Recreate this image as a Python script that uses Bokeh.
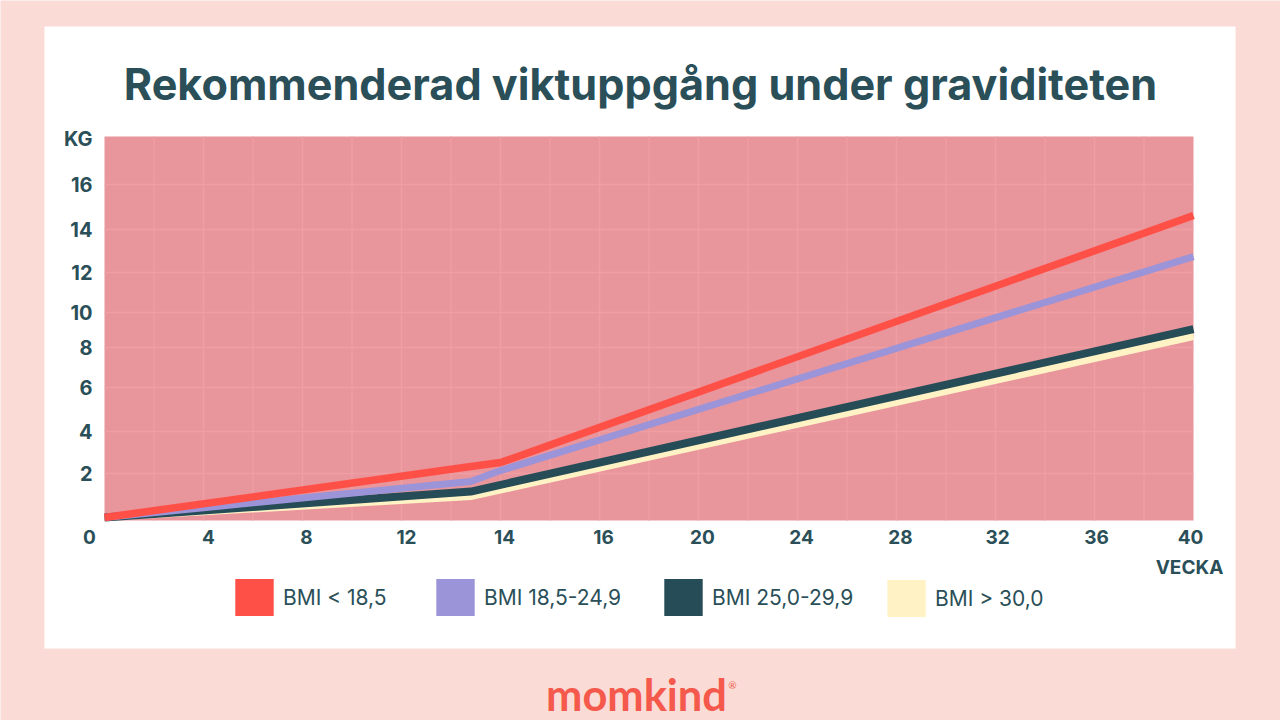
import numpy as np
from bokeh.plotting import figure
from bokeh.models import Range1d, FixedTicker, Label, Legend, LegendItem
from bokeh.embed import file_html
from bokeh.resources import INLINE

# ---- data ----
x_labels = ["0", "4", "8", "12", "14", "16", "20", "24", "28", "32", "36", "40"]
x_weeks = [0, 4, 8, 12, 14, 16, 20, 24, 28, 32, 36, 40]
y_labels = ["2", "4", "6", "8", "10", "12", "14", "16"]
y_kg = [2, 4, 6, 8, 10, 12, 14, 16]

names = ["BMI < 18,5", "BMI 18,5-24,9", "BMI 25,0-29,9", "BMI > 30,0"]
colors = ["#FF5048", "#9C94D8", "#264D57", "#FFF3C6"]
widths = [7.5, 7, 8, 7]

weeks_red = [0, 13.4, 14, 40]
kg_red = [0, 2.33, 2.52, 14.62]
weeks_purple = [0, 13.4, 14, 40]
kg_purple = [0, 1.64, 2.14, 12.74]
weeks_dark = [0, 13.4, 40]
kg_dark = [0, 1.18, 9.05]
weeks_cream = [0, 13.4, 40]
kg_cream = [0, 0.95, 8.63]

TEXT = "#2A4F58"
PAGE = "#FADBD6"
FONT = "Inter"

# ---- the reference axes are irregular: scale positions per tick ----
x_pos = [0, 99, 198, 297, 396, 495, 594, 693, 792, 891, 990, 1089]
x_label_pos = [-15, 104, 202, 302, 400, 499, 598, 697, 796, 893, 992, 1086]
y_pos = [3, 47, 89, 133, 173, 208, 248, 291, 336]
y_label_pos = [47, 89, 133, 173, 208, 248, 291, 336]
KG_POS = 382


def wx(w):
    return np.interp(w, x_weeks, x_pos)


def ky(k):
    return np.interp(k, [0] + y_kg, y_pos)


p = figure(width=1280, height=720, output_backend="svg", toolbar_location=None,
           x_range=Range1d(-104, 1176), y_range=Range1d(-200, 520),
           min_border=0)
p.border_fill_color = PAGE
p.background_fill_color = PAGE
p.outline_line_color = None
p.grid.visible = False

# card and plot area
p.quad(left=[-60], right=[1131], bottom=[-128], top=[494], fill_color="white", line_color=None)
p.quad(left=[0], right=[x_pos[-1]], bottom=[0], top=[384], fill_color="#E9959C", line_color=None)

grid_xs = [(x_pos[i] + x_pos[i + 1]) / 2 for i in range(len(x_pos) - 1)] + x_pos[1:-1]
p.segment(x0=grid_xs, x1=grid_xs, y0=[0] * len(grid_xs), y1=[384] * len(grid_xs),
          line_color="#F0A0A6", line_width=1.5, line_alpha=0.8)
p.segment(x0=[0] * len(y_label_pos), x1=[x_pos[-1]] * len(y_label_pos),
          y0=y_label_pos, y1=y_label_pos, line_color="#F0A0A6", line_width=1.5, line_alpha=0.8)

p.line(wx(weeks_cream), ky(kg_cream), line_color=colors[3], line_width=widths[3])
p.line(wx(weeks_dark), ky(kg_dark), line_color=colors[2], line_width=widths[2])
p.line(wx(weeks_purple), ky(kg_purple), line_color=colors[1], line_width=widths[1])
p.line(wx(weeks_red), ky(kg_red), line_color=colors[0], line_width=widths[0])

# axes
xa = p.xaxis[0]
xa.fixed_location = 0
xa.ticker = FixedTicker(ticks=x_label_pos)
xa.major_label_overrides = dict(zip(x_label_pos, x_labels))
ya = p.yaxis[0]
ya.fixed_location = -12
ya.ticker = FixedTicker(ticks=y_label_pos + [KG_POS])
ya.major_label_overrides = {**dict(zip(y_label_pos, y_labels)), KG_POS: "KG"}
for a in (xa, ya):
    a.axis_line_color = None
    a.major_tick_line_color = None
    a.minor_tick_line_color = None
    a.major_label_text_color = TEXT
    a.major_label_text_font = FONT
    a.major_label_text_font_style = "bold"
    a.major_tick_in = 0
    a.major_tick_out = 0
xa.major_label_text_font_size = "19px"
ya.major_label_text_font_size = "20px"
xa.major_label_standoff = 9
ya.major_label_standoff = 0

p.add_layout(Label(x=536, y=437, text="Rekommenderad viktuppgång under graviditeten",
                   text_align="center", text_baseline="middle", text_color=TEXT, text_font=FONT,
                   text_font_size="43.2px", text_font_style="bold"))
p.add_layout(Label(x=1085, y=-47, text="VECKA", text_align="center", text_baseline="middle",
                   text_color=TEXT, text_font=FONT, text_font_size="19px", text_font_style="bold"))

# legend: one block per entry, because the reference's gaps are uneven
nan = [float("nan")]
legend_x = [230, 431, 659, 882]
legend_y = [100, 100, 100, 99]
for name, col, lx, ly in zip(names, colors, legend_x, legend_y):
    r = p.quad(left=nan, right=nan, bottom=nan, top=nan, fill_color=col, line_color=None)
    leg = Legend(items=[LegendItem(label=name, renderers=[r])], location=(lx, ly),
                 glyph_width=48, glyph_height=46, label_standoff=5, padding=0, margin=0,
                 background_fill_alpha=0, border_line_color=None, label_text_color=TEXT,
                 label_text_font=FONT, label_text_font_size="21px", label_text_baseline="middle")
    p.add_layout(leg, "center")

# logo
p.add_layout(Label(x=532, y=-173, text="momkind", text_align="center", text_baseline="middle",
                   text_color="#F4594C", text_font="Lato", text_font_size="43.4px", text_font_style="bold"))
p.add_layout(Label(x=628, y=-164, text="®", text_align="center", text_baseline="middle",
                   text_color="#F4594C", text_font="Lato", text_font_size="10px"))

open("out.html", "w").write(file_html(p, INLINE))
